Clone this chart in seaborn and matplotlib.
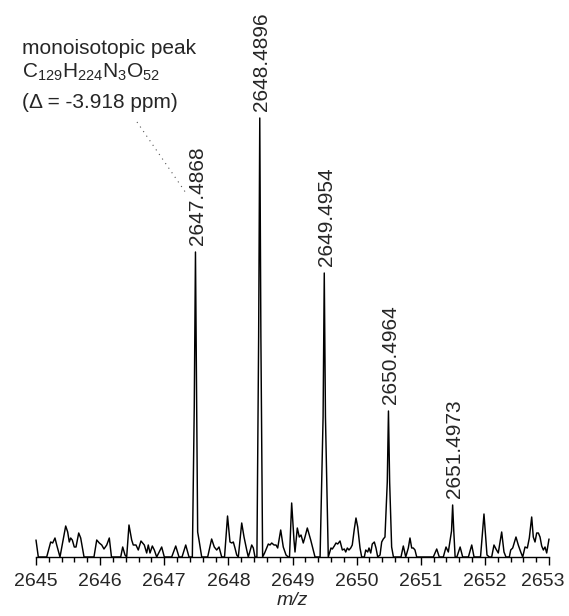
import matplotlib
matplotlib.use("Agg")
import matplotlib.pyplot as plt
from matplotlib.ticker import MultipleLocator
from matplotlib.transforms import ScaledTranslation
import seaborn as sns
import pandas as pd

# m/z values and intensities (arbitrary units)
mz = [2645.000, 2645.036, 2645.167, 2645.229, 2645.260, 2645.296, 2645.323, 2645.374,
      2645.463, 2645.494, 2645.519, 2645.541, 2645.566, 2645.597, 2645.624, 2645.666,
      2645.697, 2645.749, 2645.904, 2645.947, 2645.987, 2646.025, 2646.060, 2646.103,
      2646.143, 2646.177, 2646.321, 2646.352, 2646.388, 2646.414, 2646.450, 2646.492,
      2646.517, 2646.559, 2646.595, 2646.637, 2646.664, 2646.689, 2646.726, 2646.751,
      2646.778, 2646.814, 2646.845, 2646.882, 2646.960, 2647.001, 2647.116, 2647.179,
      2647.230, 2647.277, 2647.335, 2647.386, 2647.438, 2647.468, 2647.4868, 2647.505,
      2647.521, 2647.542, 2647.584, 2647.677, 2647.739, 2647.780, 2647.818, 2647.854,
      2647.896, 2647.940, 2647.987, 2648.025, 2648.052, 2648.077, 2648.103, 2648.130,
      2648.155, 2648.208, 2648.244, 2648.286, 2648.311, 2648.364, 2648.389, 2648.415,
      2648.445, 2648.472, 2648.4896, 2648.507, 2648.534, 2648.565, 2648.598, 2648.623,
      2648.649, 2648.676, 2648.712, 2648.743, 2648.769, 2648.816, 2648.856, 2648.899,
      2648.934, 2648.953, 2648.987, 2649.023, 2649.039, 2649.075, 2649.106, 2649.133,
      2649.168, 2649.195, 2649.231, 2649.262, 2649.284, 2649.315, 2649.351, 2649.430,
      2649.477, 2649.4954, 2649.514, 2649.558, 2649.600, 2649.621, 2649.652, 2649.678,
      2649.705, 2649.741, 2649.777, 2649.808, 2649.830, 2649.855, 2649.881, 2649.908,
      2649.932, 2649.964, 2649.990, 2650.017, 2650.053, 2650.079, 2650.120, 2650.142,
      2650.173, 2650.193, 2650.220, 2650.244, 2650.276, 2650.302, 2650.329, 2650.365,
      2650.391, 2650.416, 2650.442, 2650.478, 2650.4964, 2650.515, 2650.546, 2650.574,
      2650.692, 2650.728, 2650.766, 2650.806, 2650.832, 2650.859, 2650.884, 2650.910,
      2650.937, 2651.196, 2651.249, 2651.289, 2651.352, 2651.394, 2651.430, 2651.480,
      2651.4973, 2651.515, 2651.536, 2651.563, 2651.614, 2651.654, 2651.743, 2651.795,
      2651.831, 2651.932, 2651.986, 2652.033, 2652.069, 2652.106, 2652.142, 2652.173,
      2652.209, 2652.262, 2652.298, 2652.329, 2652.381, 2652.403, 2652.434, 2652.485,
      2652.521, 2652.559, 2652.590, 2652.626, 2652.662, 2652.693, 2652.730, 2652.755,
      2652.782, 2652.808, 2652.834, 2652.860, 2652.886, 2652.912, 2652.938, 2652.964,
      2653.000]
intensity = [17, 0, 0, 15, 14, 19, 12, 0,
             31, 25, 15, 19, 17, 10, 10, 24,
             19, 0, 0, 17, 14, 12, 8, 12,
             19, 0, 0, 10, 2, 0, 32, 17,
             12, 12, 7, 16, 14, 12, 4, 12,
             4, 11, 7, 0, 10, 0, 0, 11,
             0, 0, 12, 0, 0, 150, 305, 150,
             25, 17, 0, 0, 18, 10, 7, 10,
             0, 0, 41, 15, 14, 15, 9, 2,
             0, 34, 20, 7, 0, 12, 9, 0,
             0, 220, 439, 220, 0, 4, 9, 13,
             12, 14, 12, 12, 9, 27, 10, 2,
             0, 0, 54, 17, 5, 29, 20, 22,
             14, 20, 29, 22, 17, 9, 0, 0,
             140, 284, 140, 0, 9, 8, 11, 14,
             13, 16, 7, 8, 5, 9, 7, 9,
             12, 28, 39, 30, 9, 0, 0, 7,
             5, 9, 4, 13, 15, 9, 0, 2,
             15, 18, 20, 75, 146, 75, 10, 0,
             0, 11, 0, 9, 19, 9, 9, 7,
             0, 0, 8, 0, 0, 10, 5, 26,
             52, 26, 0, 0, 10, 0, 0, 12,
             0, 0, 43, 2, 0, 0, 12, 8,
             4, 25, 5, 0, 0, 7, 9, 20,
             12, 5, 0, 10, 9, 19, 40, 20,
             15, 24, 24, 20, 11, 7, 10, 4,
             18]

peak_mz = [2647.4868, 2648.4896, 2649.4954, 2650.4964, 2651.4973]
peak_int = [305, 439, 284, 146, 52]
peak_labels = ["2647.4868", "2648.4896", "2649.4954", "2650.4964", "2651.4973"]

major_ticks = [2645, 2646, 2647, 2648, 2649, 2650, 2651, 2652, 2653]

sns.set_style("white")
plt.rcParams["font.family"] = ["Liberation Sans", "DejaVu Sans"]
plt.rcParams["mathtext.fontset"] = "custom"
plt.rcParams["mathtext.rm"] = "Liberation Sans"
plt.rcParams["mathtext.it"] = "Liberation Sans:italic"
plt.rcParams["mathtext.default"] = "regular"

df = pd.DataFrame({"mz": mz, "intensity": intensity})

fig = plt.figure(figsize=(5.69, 6.16), dpi=100)
ax = fig.add_axes([36 / 569, 59 / 616, 513 / 569, 557 / 616])
sns.lineplot(data=df, x="mz", y="intensity", ax=ax, color="black",
             linewidth=1.05, estimator=None, sort=False)
for line in ax.lines:
    line.set_clip_on(False)

ax.set_xlim(2645, 2653)
ax.set_ylim(0, 557)
for s in ["left", "right", "top"]:
    ax.spines[s].set_visible(False)
ax.spines["bottom"].set_linewidth(1.0)
ax.spines["bottom"].set_color("black")
ax.set_yticks([])
ax.set_xticks(major_ticks)
ax.set_xticklabels([str(t) for t in major_ticks])
ax.xaxis.set_minor_locator(MultipleLocator(0.2))
ax.tick_params(axis="x", which="major", direction="out", length=5.8, width=1.0,
               color="black", labelsize=14, pad=5.5, bottom=True)
ax.tick_params(axis="x", which="minor", direction="out", length=3.8, width=1.0,
               color="black", bottom=True)
# keep the last tick label inside the canvas
last = ax.get_xticklabels()[-1]
last.set_transform(last.get_transform() + ScaledTranslation(-6 / 100, 0, fig.dpi_scale_trans))
ax.set_xlabel("m/z", fontsize=14, fontstyle="italic", labelpad=2)
ax.set_ylabel("")

for x, y, lab in zip(peak_mz, peak_int, peak_labels):
    ax.annotate(lab, xy=(x, y), xytext=(1.5, 5), textcoords="offset points",
                rotation=90, ha="center", va="bottom", fontsize=15)

# leader from annotation to monoisotopic peak label
ax.plot([2646.575, 2647.36], [435, 362], color="#555555", linewidth=0.8,
        linestyle=(0, (1, 4)), clip_on=False)

fig.text(22 / 569, 1 - 54 / 616, "monoisotopic peak", fontsize=15, va="baseline")
fig.text(22 / 569, 1 - 78 / 616, r"C$_{129}$H$_{224}$N$_{3}$O$_{52}$",
         fontsize=15, va="baseline")
fig.text(22 / 569, 1 - 108 / 616, "(\u0394 = -3.918 ppm)", fontsize=15, va="baseline")

fig.savefig("out.png", dpi=100, facecolor="white")
